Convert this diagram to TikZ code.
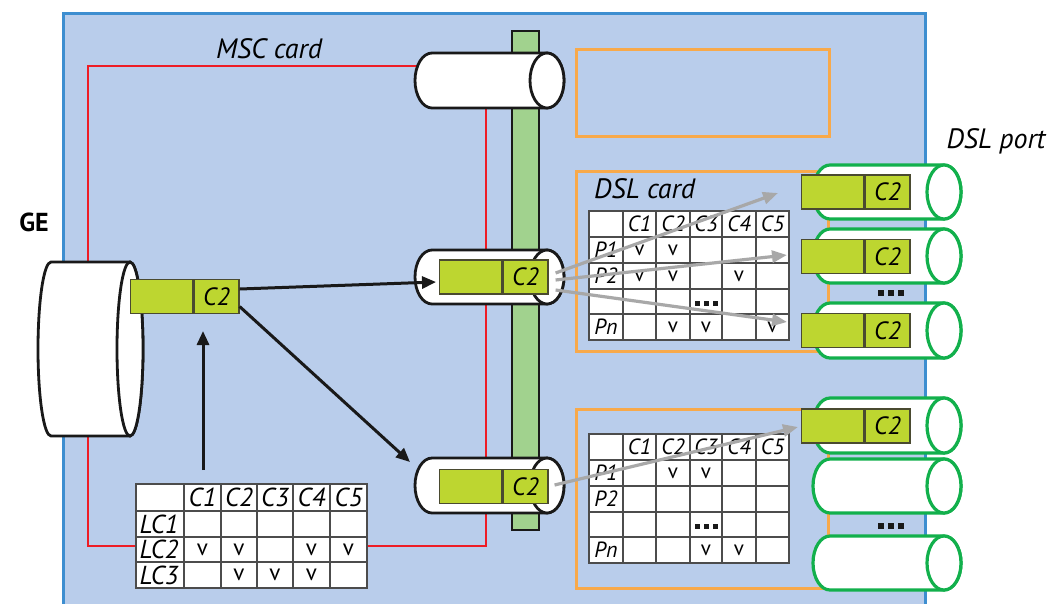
\documentclass[tikz,border=0pt]{standalone}
\usepackage{fontspec}
\setmainfont{PT Sans}
\usetikzlibrary{arrows.meta,calc}
\definecolor{bgblue}{HTML}{B9CDEB}
\definecolor{borderblue}{HTML}{3D8ED0}
\definecolor{redc}{HTML}{EE1C25}
\definecolor{orangec}{HTML}{F8A94A}
\definecolor{barfill}{HTML}{A1D28E}
\definecolor{limec}{HTML}{BDD630}
\definecolor{limeedge}{HTML}{4A4A30}
\definecolor{portgreen}{HTML}{12B04C}
\definecolor{arrowgray}{HTML}{A8A8A8}
\newcommand\hcyl[6]{%
 \pgfmathsetmacro\cyA{#1+#5}%
 \pgfmathsetmacro\cyY{(#3+#4)/2}%
 \pgfmathsetmacro\cyR{(#4-#3)/2}%
 \pgfmathsetmacro\cyKx{0.5523*#5}%
 \pgfmathsetmacro\cyKy{0.5523*\cyR}%
 \path[#6] (\cyA,#3) .. controls ({\cyA-\cyKx},#3) and (#1,{\cyY-\cyKy}) .. (#1,\cyY) .. controls (#1,{\cyY+\cyKy}) and ({\cyA-\cyKx},#4) .. (\cyA,#4) -- (#2,#4) .. controls ({#2+\cyKx},#4) and ({#2+#5},{\cyY+\cyKy}) .. ({#2+#5},\cyY) .. controls ({#2+#5},{\cyY-\cyKy}) and ({#2+\cyKx},#3) .. (#2,#3) -- cycle;
 \path[#6] (#2,\cyY) ellipse [x radius=#5, y radius=\cyR];
}
\newcommand\limepair[3]{%
 \node[limeL, anchor=west] (#1a) at (#2,#3) {};
 \node[limeR, anchor=west] (#1b) at (#1a.east) {C2};
}
\newcommand\dslgrid[2]{% prefix, top
 \fill[white] (589,#2) rectangle (789,{#2+129});
 \foreach \xx in {623,656,690,722,756} \draw[gridl] (\xx,#2) -- (\xx,{#2+129});
 \foreach \yy in {26,52,78,103} \draw[gridl] (589,{#2+\yy}) -- (789,{#2+\yy});
 \draw[gridl] (589,#2) rectangle (789,{#2+129});
 \foreach \xx/\cc [count=\i] in {639.5/C1,673/C2,706/C3,739/C4,772.5/C5}
   \node[hdrS] (#1h\i) at (\xx,{#2+13}) {\cc};
 \node[hdrS] (#1r1) at (606,{#2+39}) {P1};
 \node[hdrS] (#1r2) at (606,{#2+65}) {P2};
 \node[hdrS] (#1rn) at (606,{#2+116}) {Pn};
 \fill[dotsq] (695,{#2+90}) rectangle (700,{#2+95});
 \fill[dotsq] (704,{#2+90}) rectangle (709,{#2+95});
 \fill[dotsq] (713,{#2+90}) rectangle (718,{#2+95});
}
\begin{document}
\begin{tikzpicture}[x=1pt,y=-1pt,
 blackcyl/.style={draw=black!90, fill=white, line width=2.8},
 portcyl/.style={draw=portgreen, fill=white, line width=3.2},
 limeL/.style={draw=limeedge, fill=limec, line width=1.3, minimum width=62, minimum height=34, inner sep=0},
 limeR/.style={limeL, minimum width=45, font=\fontsize{25}{25}\selectfont\itshape},
 gridl/.style={draw=black!70, line width=1.4},
 hdrL/.style={font=\fontsize{26}{26}\selectfont\itshape, inner sep=0},
 hdrS/.style={font=\fontsize{22}{22}\selectfont\itshape, inner sep=0},
 vmark/.style={font=\fontsize{23}{23}\selectfont, inner sep=0},
 vmarkS/.style={font=\fontsize{21}{21}\selectfont, inner sep=0},
 blackarrow/.style={draw=black!90, line width=3, -{Triangle[length=14pt,width=12pt]}},
 grayarrow/.style={draw=arrowgray, line width=3.2, -{Triangle[length=15pt,width=12pt]}},
 redline/.style={draw=redc, line width=2.8},
 orangebox/.style={draw=orangec, line width=3},
 barstyle/.style={draw=black!90, fill=barfill, line width=2.4},
 dotsq/.style={fill=black!90},
 lbl/.style={font=\fontsize{28}{28}\selectfont\itshape, inner sep=0}]
\useasboundingbox (0,0) rectangle (1055,603);
\fill[white] (0,0) rectangle (1055,603);
\draw[draw=borderblue, fill=bgblue, line width=3] (63,13) rectangle (925,615);
% orange cards
\draw[orangebox] (576,49) rectangle (829,136);
\draw[orangebox] (576,171) rectangle (828,351);
\draw[orangebox] (576,409) rectangle (828,588);
% red MSC card outline
\draw[redline] (440,66) -- (88,66) -- (88,546) -- (486,546) -- (486,100);
% backplane bar
\draw[barstyle] (512,31) rectangle (539,530);
% cylinders
\hcyl{415}{547}{53}{108}{17}{blackcyl}
\hcyl{415}{547}{250}{304}{17}{blackcyl}
\hcyl{415}{547}{458}{513}{17}{blackcyl}
\hcyl{38}{130}{262}{436}{13}{blackcyl}
% LC table
\fill[white] (136,484) rectangle (367,588);
\foreach \xx in {184,221,257,293,330} \draw[gridl] (\xx,484) -- (\xx,588);
\foreach \yy in {511,537,562} \draw[gridl] (136,\yy) -- (367,\yy);
\draw[gridl] (136,484) rectangle (367,588);
\foreach \xx/\cc [count=\i] in {202.5/C1,239/C2,275/C3,311.5/C4,348.5/C5}
  \node[hdrL] (lch\i) at (\xx,497.5) {\cc};
\node[hdrL] (lcr1) at (159,524) {LC1};
\node[hdrL] (lcr2) at (159,549.5) {LC2};
\node[hdrL] (lcr3) at (159,575) {LC3};
\foreach \xx [count=\i] in {202.5,239,311.5,348.5} \node[vmark] (lcv2\i) at (\xx,549.5) {v};
\foreach \xx [count=\i] in {239,275,311.5} \node[vmark] (lcv3\i) at (\xx,575) {v};
% DSL tables
\dslgrid{ta}{211}
\foreach \xx [count=\i] in {639.5,673} \node[vmarkS] (tav1\i) at (\xx,250) {v};
\foreach \xx [count=\i] in {639.5,673,739} \node[vmarkS] (tav2\i) at (\xx,276) {v};
\foreach \xx [count=\i] in {673,706,772.5} \node[vmarkS] (tavn\i) at (\xx,327) {v};
\dslgrid{tb}{434}
\foreach \xx [count=\i] in {673,706} \node[vmarkS] (tbv1\i) at (\xx,473) {v};
\foreach \xx [count=\i] in {706,739} \node[vmarkS] (tbvn\i) at (\xx,550) {v};
% DSL ports
\hcyl{813}{944}{165}{219}{17}{portcyl}
\hcyl{813}{944}{229}{283}{17}{portcyl}
\hcyl{813}{944}{303}{358}{17}{portcyl}
\hcyl{813}{944}{398}{453}{17}{portcyl}
\hcyl{813}{944}{459}{513}{17}{portcyl}
\hcyl{813}{944}{536}{590}{17}{portcyl}
\foreach \yy in {290,523} {
  \fill[dotsq] (878,\yy) rectangle (884,{\yy+6});
  \fill[dotsq] (888,\yy) rectangle (894,{\yy+6});
  \fill[dotsq] (898,\yy) rectangle (904,{\yy+6});
}
% lime C2 boxes
\limepair{ge}{130}{296.5}
\limepair{ma}{439}{277}
\limepair{mb}{439}{486.5}
\limepair{pa}{801}{192}
\limepair{pb}{801}{256.5}
\limepair{pc}{801}{330.5}
\limepair{pd}{801}{426}
% arrows
\coordinate (lowin) at (410,462);
\coordinate (tabup) at (203,470);
\coordinate (geunder) at (203,331);
\draw[blackarrow] ([yshift=7.5pt]geb.east) -- ([yshift=-5pt,xshift=-3pt]maa.west);
\draw[blackarrow] ([yshift=-10pt]geb.east) -- (lowin);
\draw[blackarrow] (tabup) -- (geunder);
\draw[grayarrow] ([xshift=7pt,yshift=4pt]mab.east) -- ([xshift=-23pt,yshift=-1pt]paa.west);
\draw[grayarrow] ([xshift=7pt,yshift=-3pt]mab.east) -- ([xshift=-14pt,yshift=1.5pt]pba.west);
\draw[grayarrow] ([xshift=7pt,yshift=-13pt]mab.east) -- ([xshift=-14pt,yshift=8.5pt]pca.west);
\draw[grayarrow] ([xshift=6pt,yshift=1.5pt]mbb.east) -- ([xshift=-3pt,yshift=-1pt]pda.west);
% labels
\node[lbl] (msclbl) at (269,49) {MSC card};
\node[lbl, anchor=west] (dsllbl) at (594,189) {DSL card};
\node[lbl] (portlbl) at (996,141) {DSL port};
\node[font=\fontsize{26}{26}\selectfont\bfseries, inner sep=0] (gelbl) at (34,222) {GE};
\end{tikzpicture}
\end{document}
